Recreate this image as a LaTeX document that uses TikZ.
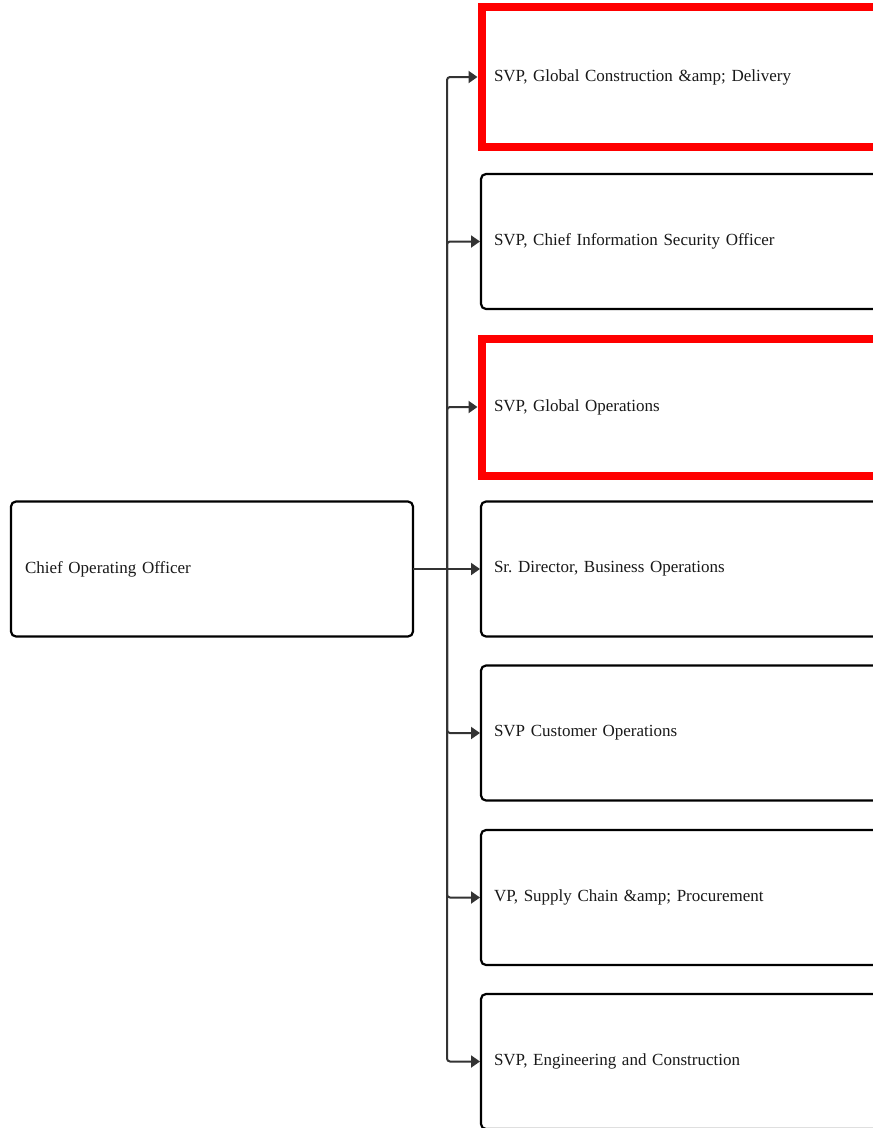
\documentclass[tikz,border=0pt]{standalone}
\usepackage{fontspec}
\setmainfont{Liberation Serif}
\usetikzlibrary{arrows.meta}
\frenchspacing
\begin{document}
\begin{tikzpicture}[x=1pt,y=-1pt,
  lbl/.style={font=\fontsize{17}{20}\selectfont, text=black!90, align=left,
    anchor=west, outer sep=0pt},
  box/.style={lbl, draw=black, line width=2.2pt, rounded corners=5pt, fill=white,
    minimum height=135pt, inner xsep=13pt, text width=420pt},
  redbox/.style={lbl, draw=red, line width=8pt, fill=white,
    minimum height=#1, inner xsep=12.5pt, text width=420pt},
  conn/.style={draw=black!80, line width=2pt, rounded corners=3pt,
    -{Triangle[length=9pt,width=12pt]}}
]
\useasboundingbox (0,0) rectangle (873,1128);
\clip (0,0) rectangle (873,1128);

% head of the chart
\node[box, inner xsep=14pt, text width=374pt] (coo) at (11,569) {Chief Operating Officer};

% direct reports
\node[redbox=140pt] (r1) at (481.5,77)   {SVP, Global Construction \&amp; Delivery};
\node[box]          (r2) at (481,241.5)  {SVP, Chief Information Security Officer};
\node[redbox=137pt] (r3) at (481.5,407)  {SVP, Global Operations};
\node[box]          (r4) at (481,569)    {Sr. Director, Business Operations};
\node[box]          (r5) at (481,733)    {SVP Customer Operations};
\node[box]          (r6) at (481,897.5)  {VP, Supply Chain \&amp; Procurement};
\node[box]          (r7) at (481,1061.5) {SVP, Engineering and Construction};

% connectors through the common trunk
\coordinate (split) at (447,569);
\draw[conn, shorten >=1pt] (coo.east) -- (r4.west);
\draw[conn, shorten >=4pt] (split) |- (r1.west);
\draw[conn, shorten >=1pt] (split) |- (r2.west);
\draw[conn, shorten >=4pt] (split) |- (r3.west);
\draw[conn, shorten >=1pt] (split) |- (r5.west);
\draw[conn, shorten >=1pt] (split) |- (r6.west);
\draw[conn, shorten >=1pt] (split) |- (r7.west);
\end{tikzpicture}
\end{document}
